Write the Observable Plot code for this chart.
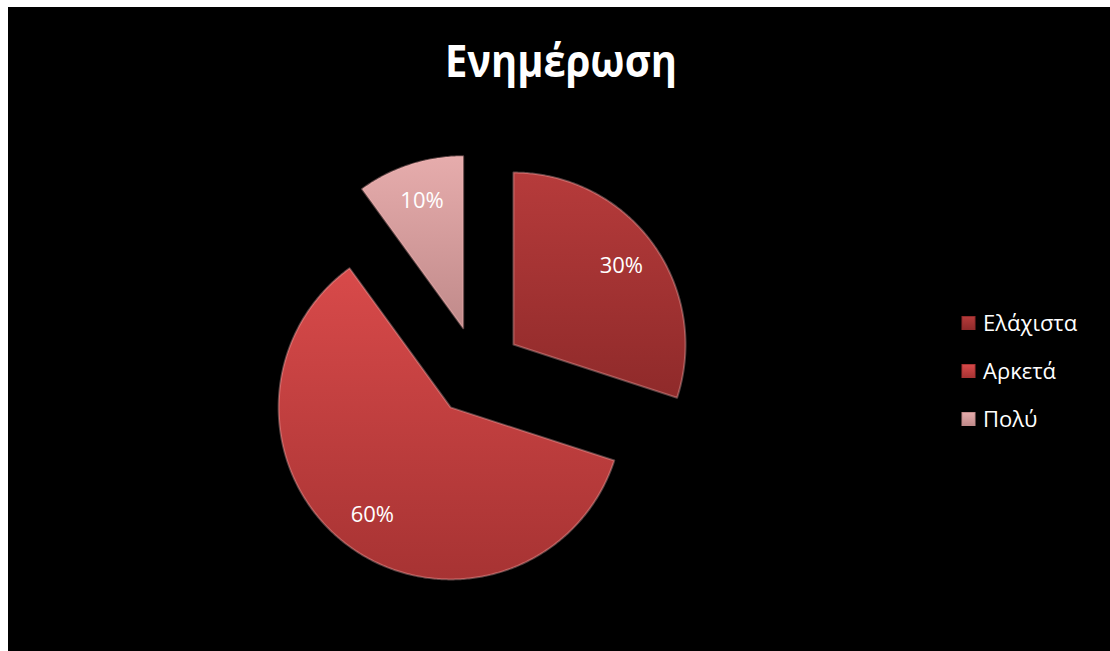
<!DOCTYPE html>
<html><head><meta charset="utf-8">
<script src="https://cdn.jsdelivr.net/npm/d3@7"></script>
<script src="https://cdn.jsdelivr.net/npm/@observablehq/plot@0.6"></script>
<style>
body{margin:0;background:#fff;}
#box{position:absolute;left:8px;top:7px;width:1102px;height:644px;background:#000;overflow:hidden;}
</style>
</head><body><div id="box"></div>
<script>
const title = "Ενημέρωση";
const categories = ["Ελάχιστα", "Αρκετά", "Πολύ"];
const values = [30, 60, 10];
const percentLabels = ["30%", "60%", "10%"];

const W = 1102, H = 644, cx = 468.6, cy = 363.5, R = 172, explode = 45;
const gradTop = ["#b63b3b", "#d84a4a", "#e6acac"];
const gradBottom = ["#8f2a2a", "#a73333", "#c08a8a"];
const font = "'Open Sans', 'DejaVu Sans', sans-serif";

const rows = categories.map((c, i) => ({cat: c, value: values[i], label: percentLabels[i]}));
const arcs = d3.pie().sort(null).value(d => d.value)(rows);

const pts = [], labelRows = [];
arcs.forEach(p => {
  const mid = (p.startAngle + p.endAngle) / 2;
  const ox = explode / R * Math.sin(mid), oy = explode / R * Math.cos(mid);
  const cat = p.data.cat;
  pts.push({cat, x: ox, y: oy});
  const n = Math.max(8, Math.ceil((p.endAngle - p.startAngle) / 0.01));
  for (let k = 0; k <= n; k++) {
    const a = p.startAngle + (p.endAngle - p.startAngle) * k / n;
    pts.push({cat, x: ox + Math.sin(a), y: oy + Math.cos(a)});
  }
  pts.push({cat, x: ox, y: oy});
  labelRows.push({label: p.data.label, x: ox + 0.775 * Math.sin(mid), y: oy + 0.775 * Math.cos(mid)});
});

const svg = Plot.plot({
  width: W, height: H, margin: 0,
  style: {background: "transparent"},
  x: {domain: [-1, 1], range: [cx - R, cx + R], axis: null},
  y: {domain: [-1, 1], range: [cy + R, cy - R], axis: null},
  color: {domain: categories, range: categories.map((c, i) => `url(#g${i})`)},
  marks: [
    Plot.line(pts, {x: "x", y: "y", z: "cat", fill: "cat", stroke: "rgba(255,190,190,0.35)", strokeWidth: 2, curve: "linear"}),
    Plot.text(labelRows, {x: "x", y: "y", text: "label", fill: "white", fontSize: 22, fontFamily: font})
  ]
});

const s = d3.select(svg);
const defs = s.insert("defs", ":first-child");
categories.forEach((c, i) => {
  const g = defs.append("linearGradient").attr("id", `g${i}`).attr("x1", 0).attr("y1", 0).attr("x2", 0).attr("y2", 1);
  g.append("stop").attr("offset", "0%").attr("stop-color", gradTop[i]);
  g.append("stop").attr("offset", "100%").attr("stop-color", gradBottom[i]);
});

s.append("text").text(title)
  .attr("x", 553).attr("y", 70).attr("text-anchor", "middle")
  .attr("fill", "white").attr("font-family", font).attr("font-weight", "bold")
  .attr("font-size", 44).attr("textLength", 232).attr("lengthAdjust", "spacingAndGlyphs");

const leg = s.append("g");
categories.forEach((c, i) => {
  const yc = 316 + i * 48;
  leg.append("rect").attr("x", 954).attr("y", yc - 6.5).attr("width", 13).attr("height", 13)
    .attr("fill", `url(#g${i})`).attr("stroke", gradBottom[i]).attr("stroke-width", 1);
  leg.append("text").text(c).attr("x", 975).attr("y", yc + 8).attr("text-anchor", "start")
    .attr("fill", "white").attr("font-family", font).attr("font-size", 22);
});

document.getElementById("box").appendChild(svg);
</script>
</body></html>
